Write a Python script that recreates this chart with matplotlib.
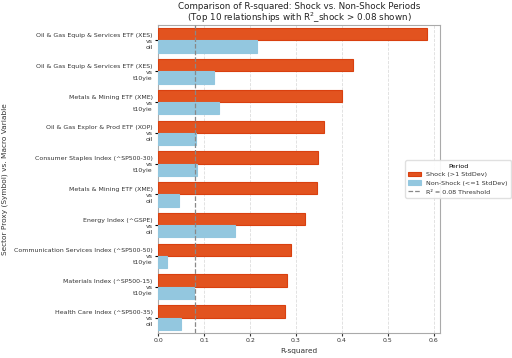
import numpy as np
import matplotlib
matplotlib.use('Agg')
import matplotlib.pyplot as plt

sectors = ['Oil & Gas Equip & Services ETF (XES)',
           'Oil & Gas Equip & Services ETF (XES)',
           'Metals & Mining ETF (XME)',
           'Oil & Gas Explor & Prod ETF (XOP)',
           'Consumer Staples Index (^SP500-30)',
           'Metals & Mining ETF (XME)',
           'Energy Index (^GSPE)',
           'Communication Services Index (^SP500-50)',
           'Materials Index (^SP500-15)',
           'Health Care Index (^SP500-35)']
macro = ['oil', 't10yie', 't10yie', 'oil', 't10yie',
         'oil', 'oil', 't10yie', 't10yie', 'oil']
r2_shock = [0.585, 0.424, 0.400, 0.361, 0.347, 0.346, 0.320, 0.288, 0.280, 0.276]
r2_non_shock = [0.214, 0.121, 0.133, 0.082, 0.084, 0.046, 0.167, 0.019, 0.079, 0.049]
threshold = 0.08

labels = [f'{s}\nvs\n{m}' for s, m in zip(sectors, macro)]
y = np.arange(len(labels))
h = 0.4

fig, ax = plt.subplots(figsize=(5.12, 3.58), dpi=100)
fig.subplots_adjust(left=0.309, right=0.859, top=0.930, bottom=0.070)

b1 = ax.barh(y - h/2, r2_shock, height=h, color='#E2531F', edgecolor='#D9400F',
             linewidth=0.8, label='Shock (>1 StdDev)', zorder=3)
b2 = ax.barh(y + h/2, r2_non_shock, height=h, color='#93C7DF', edgecolor='#93C7DF',
             linewidth=0.8, label='Non-Shock (<=1 StdDev)', zorder=3)
ln = ax.axvline(threshold, color='#888888', linestyle='--', linewidth=0.9,
                label='R² = 0.08 Threshold', zorder=4)

ax.set_yticks(y)
ax.set_yticklabels(labels, fontsize=4.5, color='#333333', linespacing=1.25)
ax.set_ylim(len(labels) - 0.5, -0.5)
ax.set_xlim(0, 0.613)
ax.set_xticks(np.arange(0, 0.61, 0.1))
ax.tick_params(axis='x', labelsize=4.5, colors='#333333', length=2, pad=2)
ax.tick_params(axis='y', length=2, pad=2)

ax.grid(axis='x', linestyle='--', linewidth=0.6, color='#dddddd', zorder=0)
for sp in ax.spines.values():
    sp.set_color('#aaaaaa')

ax.set_title('Comparison of R-squared: Shock vs. Non-Shock Periods\n'
             '(Top 10 relationships with R$^2$_shock > 0.08 shown)',
             fontsize=6.3, color='#222222', pad=2, linespacing=1.0)
ax.set_xlabel('R-squared', fontsize=5.3, color='#333333', labelpad=3)
ax.set_ylabel('Sector Proxy (Symbol) vs. Macro Variable', fontsize=5.3,
              color='#333333')
ax.yaxis.set_label_coords(-0.535, 0.5)

leg = ax.legend(handles=[b1, b2, ln], title='Period', loc='center left',
                bbox_to_anchor=(0.866, 0.5), fontsize=4.6, title_fontsize=4.6,
                frameon=True, framealpha=0.9, edgecolor='#dddddd',
                handlelength=2.0, borderpad=0.5)
for t in leg.get_texts():
    t.set_color('#333333')

fig.savefig('out.png', dpi=100)
